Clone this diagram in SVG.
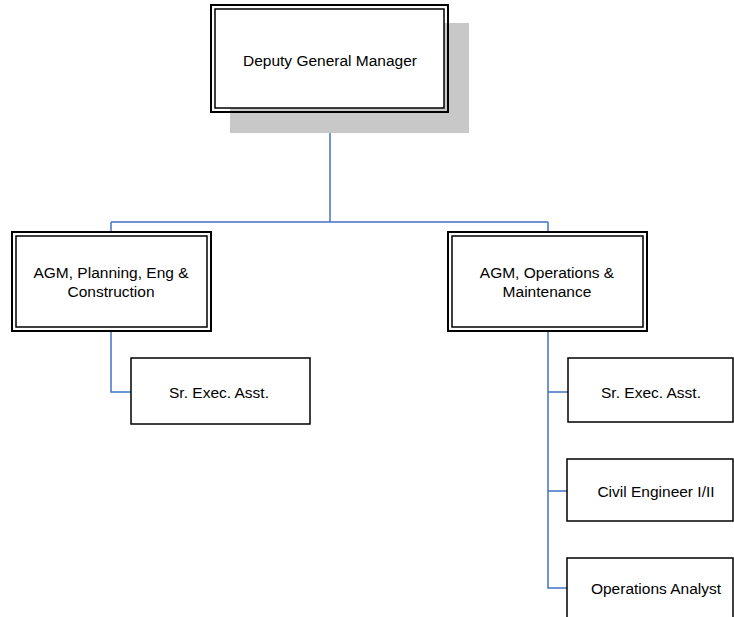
<svg xmlns="http://www.w3.org/2000/svg" width="734" height="617" viewBox="0 0 734 617">
<style>
.o{fill:none;stroke:#000;stroke-width:2}
.i{fill:#fff;stroke:#000;stroke-width:1.5}
.s{fill:#fff;stroke:#000;stroke-width:1.5}
.t{font-family:"Liberation Sans",Arial,sans-serif;font-size:15.5px;fill:#000;text-anchor:middle}
.c{fill:none;stroke:#4472C4;stroke-width:1.5}
</style>
<rect width="734" height="617" fill="#fff"/>
<g id="connectors">
<path class="c" d="M330 112 V222 M111 222 H548 M111 222 V232 M548 222 V232"/>
<path class="c" d="M111 331 V392 H131"/>
<path class="c" d="M548 331 V588 H567 M548 392 H568 M548 491 H567"/>
</g>
<g id="dgm">
<rect x="230" y="23" width="239" height="110" fill="#c8c8c8"/>
<rect class="i" x="215" y="9" width="229" height="99"/>
<rect class="o" x="211" y="5" width="237" height="107"/>
<text class="t" x="330" y="65.5">Deputy General Manager</text>
</g>
<g id="agm-planning">
<rect class="i" x="16" y="236" width="191" height="91"/>
<rect class="o" x="12" y="232" width="199" height="99"/>
<text class="t" x="111" y="277.5">AGM, Planning, Eng &amp;</text>
<text class="t" x="111" y="296.5">Construction</text>
</g>
<g id="agm-operations">
<rect class="i" x="452" y="236" width="191" height="91"/>
<rect class="o" x="448" y="232" width="199" height="99"/>
<text class="t" x="547" y="277.5">AGM, Operations &amp;</text>
<text class="t" x="547" y="296.5">Maintenance</text>
</g>
<g id="sr-exec-left">
<rect class="s" x="131" y="358" width="179" height="66"/>
<text class="t" x="219" y="397.5">Sr. Exec. Asst.</text>
</g>
<g id="sr-exec-right">
<rect class="s" x="568" y="358" width="165" height="64"/>
<text class="t" x="651" y="397.5">Sr. Exec. Asst.</text>
</g>
<g id="civil-engineer">
<rect class="s" x="567" y="459" width="166" height="62"/>
<text class="t" x="656" y="496.5">Civil Engineer I/II</text>
</g>
<g id="operations-analyst">
<rect class="s" x="567" y="558" width="166" height="70"/>
<text class="t" x="656" y="593.5">Operations Analyst</text>
</g>
</svg>
